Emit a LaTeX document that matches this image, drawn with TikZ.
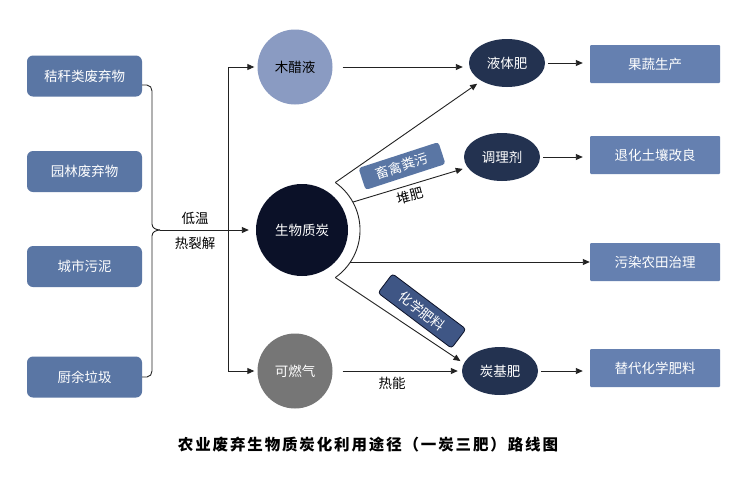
\documentclass[tikz,border=0pt]{standalone}
\usepackage{fontspec}
\setmainfont{Noto Sans CJK SC}
\newfontfamily\titlefont[LetterSpace=12]{Noto Sans CJK SC}
\usetikzlibrary{arrows.meta,shapes.geometric,calc}
\definecolor{leftbox}{HTML}{5A76A4}
\definecolor{rightbox}{HTML}{6580B0}
\definecolor{mcycol}{HTML}{8A9BC2}
\definecolor{bccol}{HTML}{0B1128}
\definecolor{gascol}{HTML}{767676}
\definecolor{ellcol}{HTML}{233250}
\definecolor{chemcol}{HTML}{3F5685}
\definecolor{linecol}{HTML}{222222}
\tikzset{
  txt/.style={font=\fontsize{13.5}{15}\selectfont},
  srcbox/.style={txt, rectangle, rounded corners=6pt, fill=leftbox, text=white, minimum width=115pt, minimum height=41pt},
  dstbox/.style={txt, rectangle, rounded corners=1pt, fill=rightbox, text=white, minimum width=130pt, minimum height=38pt},
  ball/.style={txt, circle, inner sep=0pt},
  egg/.style={txt, ellipse, fill=ellcol, text=white, minimum width=76pt, minimum height=48pt, inner sep=0pt},
  conn/.style={draw=linecol, line width=0.9pt},
  arr/.style={conn, -{Triangle[length=7pt,width=6pt]}},
  tag/.style={txt, rectangle, rounded corners=3pt, text=white, inner sep=0pt, minimum height=23pt}
}
\begin{document}
\begin{tikzpicture}[x=1pt,y=-1pt]
\useasboundingbox[fill=white] (0,0) rectangle (731,477);

% sources
\node[srcbox] (b1) at (84.5,76) {秸秆类废弃物};
\node[srcbox] (b2) at (84.5,171.5) {园林废弃物};
\node[srcbox] (b3) at (84.5,266.5) {城市污泥};
\node[srcbox] (b4) at (84.5,377) {厨余垃圾};

% products
\node[ball, fill=mcycol, minimum size=75pt] (mcy) at (295,67) {木醋液};
\node[ball, fill=bccol, text=white, minimum size=92pt] (bc) at (302,230) {生物质炭};
\node[ball, fill=gascol, text=white, minimum size=75pt] (gas) at (295,371) {可燃气};

% fertilisers
\node[egg] (lf) at (507,63) {液体肥};
\node[egg] (tl) at (502,157) {调理剂};
\node[egg] (tj) at (500,371) {炭基肥};

% uses
\node[dstbox] (g1) at (655,64) {果蔬生产};
\node[dstbox] (g2) at (655,155) {退化土壤改良};
\node[dstbox] (g3) at (655,262) {污染农田治理};
\node[dstbox] (g4) at (655,368) {替代化学肥料};

% brace
\coordinate (tip) at (160,230);
\draw[conn] ($(b1.east)+(0,9)$) -- (147,85) to[out=0,in=90] (152,91) -- (152,224) to[out=-90,in=180] (tip);
\draw[conn] (b4.east) -- (147,377) to[out=0,in=-90] (152,371) -- (152,236) to[out=90,in=180] (tip);
\draw[arr, shorten >=7pt] (tip) -- (bc);
\node[txt] (lw) at (195,218) {低温};
\node[txt] (rl) at (195,243) {热裂解};

% split
\coordinate (vt) at (228,67);
\coordinate (vb) at (228,371);
\draw[conn] (vt) -- (vb);
\draw[arr, shorten >=3pt] (vt) -- (mcy);
\draw[arr, shorten >=3pt] (vb) -- (gas);

% arc around biochar
\coordinate (a1) at (335.3,182.5);
\coordinate (a2) at (352.8,202.1);
\coordinate (a3) at (350.4,262);
\coordinate (a4) at (335.3,277.5);
\draw[conn] (a1) arc[start angle=-55, end angle=55, radius=58];

\draw[arr, shorten <=10pt, shorten >=6pt] (mcy) -- (mcy -| lf.west);
\draw[arr, shorten >=5pt] (a1) -- (lf);
\draw[arr, shorten >=5pt] (a2) -- (tl);
\draw[arr] (a3) -- (a3 -| g3.west);
\draw[arr, shorten >=4pt] (a4) -- (tj.168);
\draw[arr, shorten <=10pt, shorten >=4pt] (gas) -- (tj);

\draw[arr, shorten <=3pt, shorten >=7pt] (lf.east) -- (lf.east -| g1.west);
\draw[arr, shorten <=3pt, shorten >=7pt] (tl.east) -- (tl.east -| g2.west);
\draw[arr, shorten <=3pt, shorten >=7pt] (tj.east) -- (tj.east -| g4.west);

% labels
\node[tag, fill=leftbox, minimum width=84pt, rotate=18] (xq) at (402,166) {畜禽粪污};
\node[txt, rotate=15] (df) at (410,196) {堆肥};
\node[tag, fill=chemcol, draw=bccol, line width=0.8pt, minimum width=92pt, minimum height=24pt, rotate=-37] (hx) at (422,311) {化学肥料};
\node[txt] (rn) at (392,383) {热能};

% title
\node[font=\titlefont\bfseries\fontsize{15.5}{17}\selectfont] (title) at (368,445) {农业废弃生物质炭化利用途径（一炭三肥）路线图};
\end{tikzpicture}
\end{document}
